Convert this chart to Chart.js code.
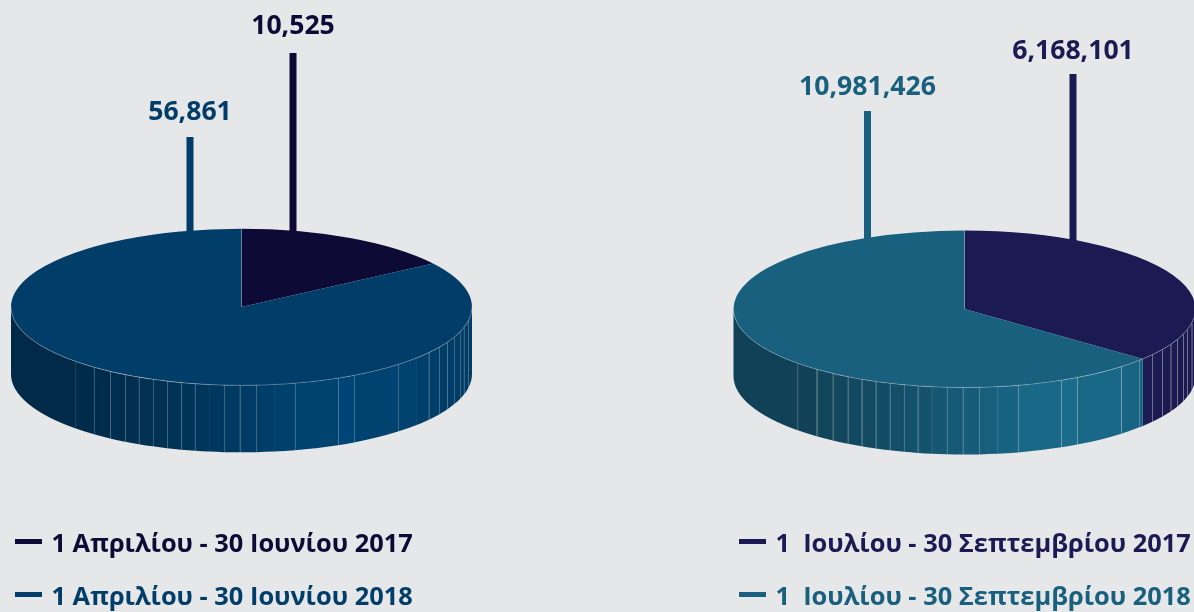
<!DOCTYPE html>
<html>
<head>
<meta charset="utf-8">
<script src="https://cdn.jsdelivr.net/npm/chart.js@4"></script>
<style>
html, body { margin: 0; height: 100%; background: #e6e7e9; overflow: hidden; }
body { position: relative; width: 1194px; height: 612px; font-family: "Open Sans", sans-serif; font-weight: 700; }
.box { position: absolute; top: 0; width: 484px; height: 612px; }
.row { position: absolute; white-space: pre; font-size: 25.4px; line-height: 30px; }
.row i { position: absolute; top: 12px; height: 5px; width: 27px; background: currentColor; }
</style>
</head>
<body>
<div class="box" style="left:0"><canvas id="pieA"></canvas></div>
<div class="box" style="left:722px"><canvas id="pieB"></canvas></div>
<div id="legend"></div>
<script>
const labelsA = ['1 Απριλίου - 30 Ιουνίου 2017', '1 Απριλίου - 30 Ιουνίου 2018'];
const valuesA = [10525, 56861];
const colorsA = ['#0e0a36', '#003e69'];

const labelsB = ['1  Ιουλίου - 30 Σεπτεμβρίου 2017', '1  Ιουλίου - 30 Σεπτεμβρίου 2018'];
const valuesB = [6168101, 10981426];
const colorsB = ['#1c1a52', '#18607e'];

// where the slats of the pie wall meet, as a share of the radius left/right of centre
const wallSeams = [-.722, -.64, -.57, -.505, -.445, -.384, -.323, -.262, -.202, -.141, -.076, -.007,
    .063, .141, .232, .419, .488, .679, .757, .813, .857, .892, .922, .948, .965, .983];
// these ones hardly show in the picture
const faintSeams = [-.722, -.141, .141, .757];
// light falling on the wall, left to right
const wallLight = [[-1, .68], [-.72, .68], [-.2, .85], [.2, 1.04], [.45, 1.12], [.8, 1.02], [1, .95]];

const squash = 0.34;
const depth = 67;

function lightAt(t) {
    for (let i = 1; i < wallLight.length; i++) {
        if (t <= wallLight[i][0]) {
            const a = wallLight[i - 1], b = wallLight[i];
            return a[1] + (b[1] - a[1]) * (t - a[0]) / (b[0] - a[0]);
        }
    }
    return 1;
}

function shade(hex, k) {
    const n = parseInt(hex.slice(1), 16);
    const c = [n >> 16, (n >> 8) & 255, n & 255].map(v => Math.min(255, Math.round(v * k)));
    return `rgb(${c[0]},${c[1]},${c[2]})`;
}

function drawWall(ctx, arc, color) {
    const { x, y, outerRadius: rx, startAngle, endAngle } = arc;
    const ry = rx * squash;
    const lo = Math.max(startAngle, 0), hi = Math.min(endAngle, Math.PI);
    if (hi <= lo) return;
    const seams = wallSeams.filter(t => Math.acos(t) > lo && Math.acos(t) < hi).reverse();
    const cuts = [lo, ...seams.map(t => Math.acos(t)), hi];
    for (let i = 0; i < cuts.length - 1; i++) {
        const a0 = cuts[i], a1 = cuts[i + 1];
        ctx.beginPath();
        ctx.ellipse(x, y, rx, ry, 0, a0, a1);
        ctx.ellipse(x, y + depth, rx, ry, 0, a1, a0, true);
        ctx.closePath();
        ctx.fillStyle = shade(color, lightAt(Math.cos((a0 + a1) / 2)));
        ctx.fill();
    }
    ctx.lineWidth = 1;
    seams.forEach(t => {
        const a = Math.acos(t);
        const px = Math.round(x + rx * t) + 0.5, py = y + ry * Math.sin(a);
        ctx.strokeStyle = faintSeams.includes(t) ? 'rgba(255,255,255,0.05)' : 'rgba(255,255,255,0.22)';
        ctx.beginPath();
        ctx.moveTo(px, py);
        ctx.lineTo(px, py + depth);
        ctx.stroke();
    });
}

// wall and leader lines go under the squashed pie, labels and rim on top
const pie3d = {
    id: 'pie3d',
    beforeDatasetsDraw(chart) {
        const ctx = chart.ctx;
        const arcs = chart.getDatasetMeta(0).data;
        const o = chart.options.plugins.pie3d;
        const colors = chart.data.datasets[0].backgroundColor;
        ctx.save();
        arcs.forEach((arc, i) => drawWall(ctx, arc, colors[i]));
        arcs.forEach((arc, i) => {
            ctx.fillStyle = colors[i];
            ctx.fillRect(arc.x + o.leaderX[i] - 3.5, o.leaderTop[i], 7, arc.y - o.leaderTop[i] - arc.outerRadius * squash / 2);
        });
        ctx.restore();
        ctx.save();
        const c = arcs[0];
        ctx.translate(0, c.y);
        ctx.scale(1, squash);
        ctx.translate(0, -c.y);
    },
    afterDatasetsDraw(chart) {
        const ctx = chart.ctx;
        ctx.restore();
        const arcs = chart.getDatasetMeta(0).data;
        const o = chart.options.plugins.pie3d;
        const values = chart.data.datasets[0].data;
        const colors = chart.data.datasets[0].backgroundColor;
        const { x, y, outerRadius: rx } = arcs[0];
        ctx.save();
        ctx.strokeStyle = 'rgba(255,255,255,0.25)';
        ctx.lineWidth = 1;
        ctx.beginPath();
        ctx.ellipse(x, y, rx, rx * squash, 0, 0, Math.PI);
        ctx.stroke();
        ctx.beginPath();
        ctx.moveTo(x, y);
        ctx.lineTo(x, y - rx * squash);
        ctx.stroke();
        ctx.font = '700 26.6px "Open Sans", sans-serif';
        ctx.textAlign = 'center';
        values.forEach((v, i) => {
            ctx.fillStyle = colors[i];
            ctx.fillText(v.toLocaleString('en-US'), x + o.leaderX[i], o.labelY[i]);
        });
        ctx.restore();
    }
};

function makePie(id, labels, values, colors, padding, leaderX, leaderTop, labelY) {
    return new Chart(document.getElementById(id).getContext('2d'), {
        type: 'pie',
        data: {
            labels: labels,
            datasets: [{ data: values, backgroundColor: colors, borderWidth: 0, hoverOffset: 0 }]
        },
        options: {
            responsive: true,
            maintainAspectRatio: false,
            animation: false,
            layout: { padding: padding },
            plugins: {
                legend: { display: false },
                tooltip: { enabled: false },
                pie3d: { leaderX: leaderX, leaderTop: leaderTop, labelY: labelY }
            }
        },
        plugins: [pie3d]
    });
}

makePie('pieA', labelsA, valuesA, colorsA, { left: 11, right: 12, top: 76.5, bottom: 74.5 }, [51.5, -51.5], [53, 137], [34, 120]);
makePie('pieB', labelsB, valuesB, colorsB, { left: 11.5, right: 10.5, top: 78, bottom: 72 }, [108.5, -97], [74, 111], [59, 95]);

// legend rows under each pie
function addLegend(labels, colors, left) {
    labels.forEach((text, i) => {
        const row = document.createElement('div');
        row.className = 'row';
        row.style.left = left + 'px';
        row.style.top = (527 + i * 52.5) + 'px';
        row.style.color = colors[i];
        row.innerHTML = `<i style="left:-37px"></i>${text}`;
        document.getElementById('legend').appendChild(row);
    });
}
addLegend(labelsA, colorsA, 51.5);
addLegend(labelsB, colorsB, 775.5);
</script>
</body>
</html>
